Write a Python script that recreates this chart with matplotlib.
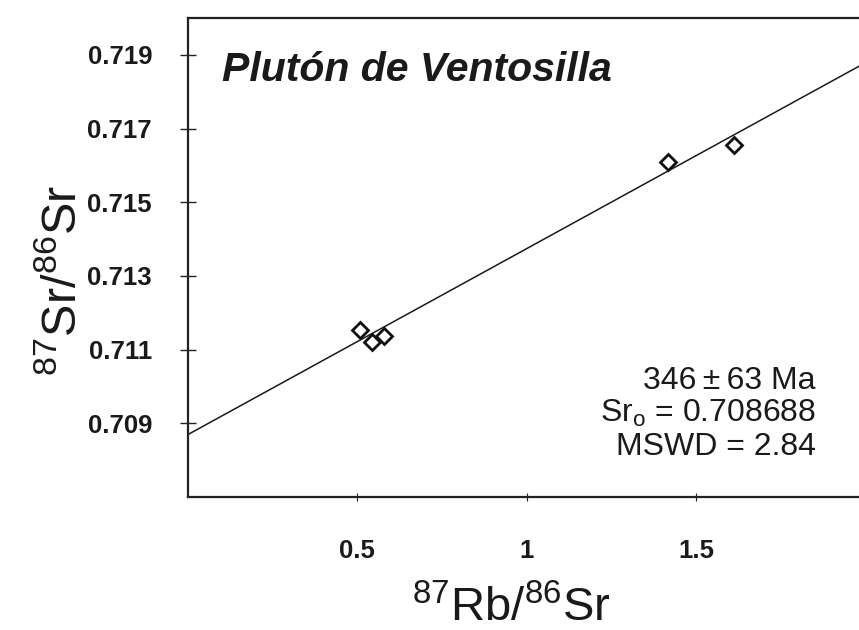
import matplotlib
matplotlib.use("Agg")
import matplotlib.pyplot as plt
import numpy as np

# ---- data ----
rb_sr = [0.510, 0.544, 0.579, 1.418, 1.613]
sr_sr = [0.711525, 0.711199, 0.711376, 0.716091, 0.716546]

iso_intercept = 0.708688
iso_slope = 0.00505
iso_x = [0.0, 2.0]

xticks = [0.5, 1.0, 1.5]
xtick_labels = ["0.5", "1", "1.5"]
yticks = [0.709, 0.711, 0.713, 0.715, 0.717, 0.719]
ytick_labels = ["0.709", "0.711", "0.713", "0.715", "0.717", "0.719"]

title_text = "Plutón de Ventosilla"
info_lines = ["346\u2009±\u200963 Ma", r"Sr$_\mathrm{o}$ = 0.708688", "MSWD = 2.84"]

fam = ["Liberation Sans", "DejaVu Sans"]
plt.rcParams["font.family"] = fam
plt.rcParams["mathtext.fontset"] = "custom"
plt.rcParams["mathtext.rm"] = "Liberation Sans"
plt.rcParams["mathtext.it"] = "Liberation Sans:italic"
plt.rcParams["mathtext.bf"] = "Liberation Sans:bold"

fig = plt.figure(figsize=(8.59, 6.30), dpi=100)
W, H = 859, 630
left, right_px, top, bottom = 187.5, 187.5 + 678, 18, 497
ax = fig.add_axes([left / W, (H - bottom) / H, (right_px - left) / W, (bottom - top) / H])

ax.set_xlim(0, 2.0)
ax.set_ylim(0.707, 0.720)

xl = np.array(iso_x)
ax.plot(xl, iso_intercept + iso_slope * xl, color="#1a1a1a", lw=1.1, zorder=2)
ax.plot(rb_sr, sr_sr, linestyle="none", marker="D", markersize=8.5,
        markerfacecolor="white", markeredgecolor="#111111", markeredgewidth=2.0, zorder=3)

for s in ax.spines.values():
    s.set_linewidth(1.6)
    s.set_color("#222222")

ax.set_xticks(xticks)
ax.set_xticklabels(xtick_labels, fontfamily="Liberation Sans", fontweight="bold", fontsize=18.5)
ax.set_yticks(yticks)
ax.set_yticklabels(ytick_labels, fontfamily="Liberation Sans", fontweight="bold", fontsize=18.5)
ax.tick_params(axis="y", direction="inout", length=11, width=1.0, pad=20, colors="#222222")
ax.tick_params(axis="x", direction="inout", length=6, width=0.8, pad=27, colors="#222222")
for lab in ax.get_xticklabels() + ax.get_yticklabels():
    lab.set_color("#1a1a1a")

ax.set_xlabel(r"$^{87}$Rb/$^{86}$Sr", fontsize=34, color="#1a1a1a")
ax.set_ylabel(r"$^{87}$Sr/$^{86}$Sr", fontsize=35, color="#1a1a1a")
ax.xaxis.set_label_coords((511 - left) / 678, (bottom - 586) / (bottom - top))
ax.yaxis.set_label_coords((86 - left) / 678, (bottom - 280) / (bottom - top))

ax.text((222 - left) / 678, (bottom - 81) / (bottom - top), title_text,
        transform=ax.transAxes, fontfamily="Liberation Sans", fontweight="bold",
        fontstyle="italic", fontsize=29.5, color="#1a1a1a", ha="left", va="baseline")

baselines = [389, 422, 455]
for txt, b in zip(info_lines, baselines):
    ax.text((816 - left) / 678, (bottom - b) / (bottom - top), txt,
            transform=ax.transAxes, fontsize=23, color="#1a1a1a",
            ha="right", va="baseline")

fig.savefig("out.png", dpi=100)
